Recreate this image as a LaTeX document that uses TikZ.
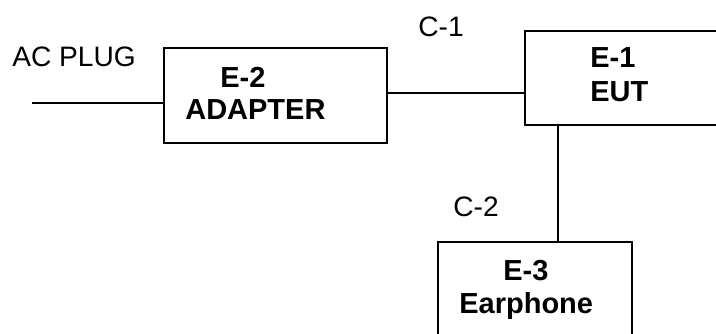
\documentclass[tikz,border=0pt]{standalone}
\usepackage{fontspec}
\setmainfont{Liberation Sans}
\usetikzlibrary{positioning}

\begin{document}
\begin{tikzpicture}[
    x=0.02cm, y=-0.02cm,
    block/.style={
        draw,
        line width=1.1pt,
        inner sep=0pt
    },
    txt/.style={
        inner sep=0pt,
        anchor=base west,
        font=\fontsize{16}{19}\selectfont
    },
    boldtxt/.style={
        txt,
        font=\fontsize{16.5}{19}\selectfont\bfseries
    },
    wire/.style={line width=1.1pt}
]
\clip (0,0) rectangle (716,334);

\node[block, minimum width=4.46cm, minimum height=1.9cm] (adapter) at (275.5,95.5) {};
\node[block, minimum width=4.7cm, minimum height=1.88cm] (eut) at (642.5,78) {};
\node[block, minimum width=3.88cm, minimum height=2.76cm] (earphone) at (535,311) {};

\node[txt] (acplug) at (12,67) {AC PLUG};
\node[txt] (c1) at (418,37) {C-1};
\node[txt] (c2) at (453,216) {C-2};

\node[boldtxt] (e2) at (220,88) {E-2};
\node[boldtxt] (adaptername) at (185,120) {ADAPTER};
\node[boldtxt] (e1) at (590,68) {E-1};
\node[boldtxt] (eutname) at (590,102) {EUT};
\node[boldtxt] (e3) at (503,280) {E-3};
\node[boldtxt] (earphonename) at (459,313) {Earphone};

\coordinate (plugend) at (32,103);
\coordinate (c1level) at (0,93);
\coordinate (c2pos) at (558,0);

\draw[wire] (plugend) -- (plugend -| adapter.west);
\draw[wire] (adapter.east |- c1level) -- (eut.west |- c1level);
\draw[wire] (eut.south -| c2pos) -- (earphone.north -| c2pos);
\end{tikzpicture}
\end{document}
